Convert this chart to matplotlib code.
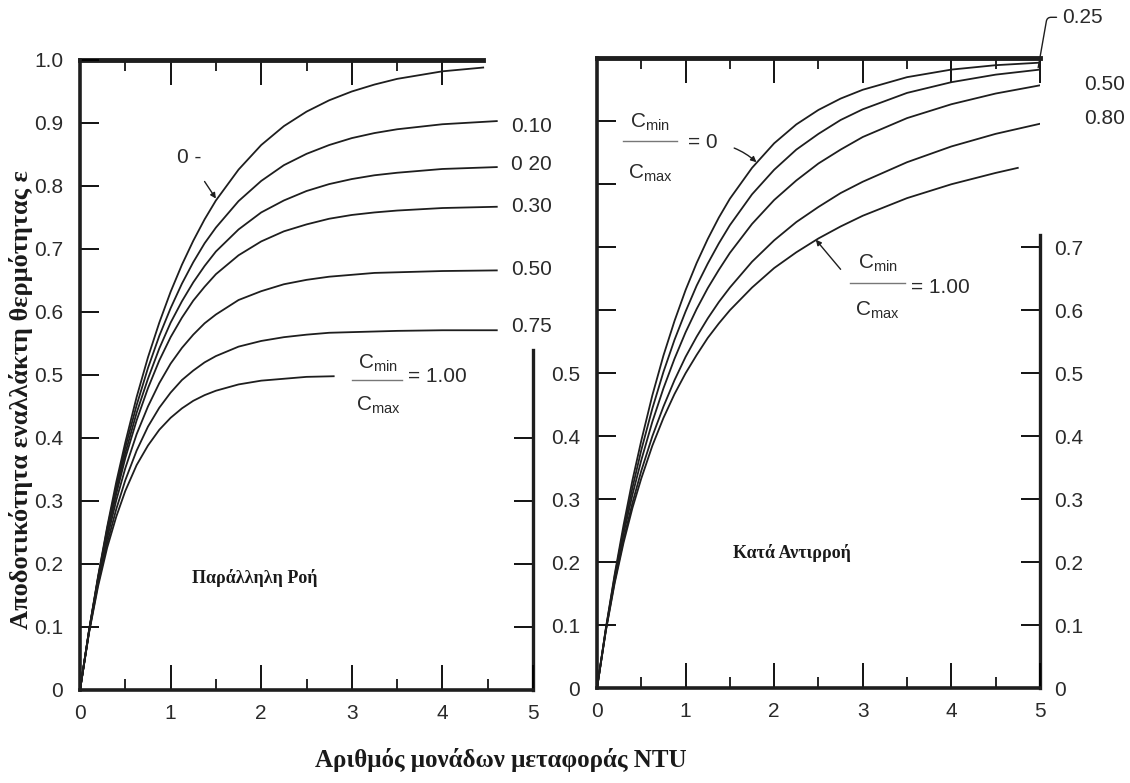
import numpy as np
import matplotlib.pyplot as plt

plt.rcParams['mathtext.fontset'] = 'custom'
plt.rcParams['mathtext.rm'] = 'Liberation Sans'

# ---------------- data ----------------
# parallel flow (left panel)
ntu_par = [0, 0.1, 0.2, 0.3, 0.4, 0.5, 0.625, 0.75, 0.875, 1.0, 1.125, 1.25, 1.375, 1.5,
           1.75, 2.0, 2.25, 2.5, 2.75, 3.0, 3.25, 3.5, 4.0, 4.6]
ntu_par_0 = [0, 0.1, 0.2, 0.3, 0.4, 0.5, 0.625, 0.75, 0.875, 1.0, 1.125, 1.25, 1.375, 1.5,
             1.75, 2.0, 2.25, 2.5, 2.75, 3.0, 3.25, 3.5, 4.0, 4.45]
ntu_par_100 = [0, 0.1, 0.2, 0.3, 0.4, 0.5, 0.625, 0.75, 0.875, 1.0, 1.125, 1.25, 1.375, 1.5,
               1.75, 2.0, 2.25, 2.5, 2.8]

par_000 = [0, .095, .181, .259, .330, .393, .465, .528, .583, .632, .675, .713, .747, .777,
           .826, .865, .895, .918, .936, .950, .961, .970, .982, .988]
par_010 = [0, .095, .179, .256, .323, .385, .452, .511, .562, .606, .645, .679, .709, .734,
           .776, .808, .833, .851, .865, .876, .884, .890, .898, .903]
par_020 = [0, .094, .178, .252, .317, .376, .440, .494, .542, .583, .617, .647, .673, .696,
           .731, .758, .777, .792, .803, .811, .817, .821, .827, .830]
par_030 = [0, .094, .176, .248, .311, .368, .428, .479, .523, .560, .591, .618, .640, .660,
           .690, .712, .728, .739, .748, .754, .758, .761, .765, .767]
par_050 = [0, .093, .173, .241, .301, .352, .406, .450, .487, .518, .543, .564, .582, .596,
           .619, .633, .644, .651, .656, .659, .662, .663, .665, .666]
par_075 = [0, .092, .169, .233, .287, .333, .380, .418, .448, .472, .492, .507, .520, .530,
           .545, .554, .560, .564, .567, .568, .569, .570, .571, .571]
par_100 = [0, .091, .165, .226, .275, .316, .357, .388, .413, .432, .447, .459, .468, .475,
           .485, .491, .494, .497, .498]

par_labels = ['0.10', '0 20', '0.30', '0.50', '0.75']

# counterflow (right panel)
ntu_cf = [0, 0.1, 0.2, 0.3, 0.4, 0.5, 0.625, 0.75, 0.875, 1.0, 1.125, 1.25, 1.375, 1.5,
          1.75, 2.0, 2.25, 2.5, 2.75, 3.0, 3.5, 4.0, 4.5, 5.0]
ntu_cf_100 = [0, 0.1, 0.2, 0.3, 0.4, 0.5, 0.625, 0.75, 0.875, 1.0, 1.125, 1.25, 1.375, 1.5,
              1.75, 2.0, 2.25, 2.5, 2.75, 3.0, 3.5, 4.0, 4.5, 4.75]

cf_000 = [0, .095, .181, .259, .330, .393, .465, .528, .583, .632, .675, .713, .747, .777,
          .826, .865, .895, .918, .936, .950, .970, .982, .989, .993]
cf_025 = [0, .094, .178, .252, .318, .378, .444, .502, .553, .598, .639, .674, .706, .735,
          .784, .823, .855, .880, .902, .919, .945, .962, .974, .982]
cf_050 = [0, .093, .174, .245, .307, .362, .423, .476, .523, .565, .602, .635, .664, .691,
          .737, .775, .806, .833, .855, .875, .905, .927, .944, .957]
cf_080 = [0, .092, .170, .236, .294, .345, .400, .447, .489, .526, .558, .587, .613, .636,
          .677, .711, .740, .764, .786, .804, .835, .860, .880, .896]
cf_100 = [0, .091, .167, .231, .286, .333, .385, .429, .467, .500, .529, .556, .579, .600,
          .636, .667, .692, .714, .733, .750, .778, .800, .818, .826]

eps_ticks = [0, 0.1, 0.2, 0.3, 0.4, 0.5, 0.6, 0.7, 0.8, 0.9, 1.0]
eps_ticklabels = ['0', '0.1', '0.2', '0.3', '0.4', '0.5', '0.6', '0.7', '0.8', '0.9', '1.0']
ntu_ticks = [0, 1, 2, 3, 4, 5]

# ---------------- style ----------------
INK = '#1e1e1e'
TICKFONT = dict(family='Liberation Sans', size=15, color='#2a2a2a')
GREEK = dict(family='Liberation Serif', weight='bold', color='#1a1a1a')
LW = 1.3

fig = plt.figure(figsize=(11.3, 7.83), dpi=100)
ax1 = fig.add_axes([0.0708, 0.1188, 0.4009, 0.8046])
ax2 = fig.add_axes([0.5283, 0.1210, 0.3920, 0.8046])

for ax in (ax1, ax2):
    ax.set_xlim(0, 5)
    ax.set_ylim(0, 1)
    ax.set_xticks(ntu_ticks)
    ax.set_xticks(np.arange(0.5, 5, 1.0), minor=True)
    ax.set_xticklabels([str(t) for t in ntu_ticks], **TICKFONT)
    ax.tick_params(axis='x', which='major', direction='in', length=18, width=1.3, pad=10)
    ax.tick_params(axis='x', which='minor', direction='in', length=8, width=1.2)
    ax.tick_params(axis='y', direction='in', length=14, width=1.3, pad=12, right=False)
    ax.set_yticks(eps_ticks)
    for side in ('left', 'bottom'):
        ax.spines[side].set_linewidth(2.6)
        ax.spines[side].set_color(INK)
    ax.spines['right'].set_visible(False)

# ---- left panel: parallel flow ----
ax1.set_yticklabels(eps_ticklabels, **TICKFONT)
ax1.spines['top'].set_visible(False)
ax1.tick_params(axis='x', which='both', top=False)
top1 = ax1.secondary_xaxis('top')
top1.set_xticks([1, 2, 3, 4])
top1.set_xticks([0.5, 1.5, 2.5, 3.5], minor=True)
top1.tick_params(which='major', direction='in', length=18, width=1.3, labeltop=False)
top1.tick_params(which='minor', direction='in', length=8, width=1.2)
top1.spines['top'].set_bounds(0, 4.45)
top1.spines['top'].set_linewidth(3.5)
top1.spines['top'].set_color(INK)
right1 = ax1.secondary_yaxis('right')
right1.set_yticks([0.1, 0.2, 0.3, 0.4])
right1.tick_params(direction='in', length=14, width=1.3, labelright=False)
right1.spines['right'].set_bounds(0, 0.54)
right1.spines['right'].set_linewidth(2.4)
right1.spines['right'].set_color(INK)

ax1.plot(ntu_par_0, par_000, color=INK, lw=LW)
for vals in (par_010, par_020, par_030, par_050, par_075):
    ax1.plot(ntu_par, vals, color=INK, lw=LW)
ax1.plot(ntu_par_100, par_100, color=INK, lw=LW)

par_label_y = [0.895, 0.834, 0.768, 0.668, 0.577]
for lab, yy in zip(par_labels, par_label_y):
    ax1.text(4.76, yy, lab, ha='left', va='center', clip_on=False, **TICKFONT)

ax1.annotate('0 -', xy=(1.5, 0.78), xytext=(1.2, 0.845), ha='center', va='center',
             arrowprops=dict(arrowstyle='-|>', color=INK, lw=1.0, mutation_scale=8,
                             shrinkA=10, shrinkB=0), **TICKFONT)
ax1.text(3.29, 0.519, r'$\mathrm{C_{min}}$', ha='center', va='center', **TICKFONT)
ax1.plot([3.0, 3.55], [0.492, 0.492], color='#777777', lw=1.0)
ax1.text(3.29, 0.452, r'$\mathrm{C_{max}}$', ha='center', va='center', **TICKFONT)
ax1.text(3.62, 0.497, '= 1.00', ha='left', va='center', **TICKFONT)
ax1.text(1.93, 0.178, 'Παράλληλη Ροή', ha='center', va='center', size=13, **GREEK)

# ---- right panel: counterflow ----
ax2.set_yticklabels(eps_ticklabels[:6] + [''] * 5, **TICKFONT)
ax2.tick_params(axis='x', which='both', top=True)
ax2.spines['top'].set_linewidth(3.5)
ax2.spines['top'].set_color(INK)
right2 = ax2.secondary_yaxis('right')
right2.set_yticks(eps_ticks[:8])
right2.set_yticklabels(eps_ticklabels[:8], **TICKFONT)
right2.tick_params(direction='in', length=14, width=1.3, pad=10)
right2.spines['right'].set_bounds(0, 0.72)
right2.spines['right'].set_linewidth(2.4)
right2.spines['right'].set_color(INK)

for vals in (cf_000, cf_025, cf_050, cf_080):
    ax2.plot(ntu_cf, vals, color=INK, lw=LW)
ax2.plot(ntu_cf_100, cf_100, color=INK, lw=LW)

ax2.annotate('0.25', xy=(4.98, 0.985), xytext=(5.25, 1.065), ha='left', va='center',
             annotation_clip=False,
             arrowprops=dict(arrowstyle='-', color=INK, lw=1.0, shrinkA=2, shrinkB=0,
                             connectionstyle='angle,angleA=0,angleB=80,rad=4'), **TICKFONT)
ax2.text(5.5, 0.958, '0.50', ha='left', va='center', clip_on=False, **TICKFONT)
ax2.text(5.5, 0.905, '0.80', ha='left', va='center', clip_on=False, **TICKFONT)

ax2.text(0.6, 0.898, r'$\mathrm{C_{min}}$', ha='center', va='center', **TICKFONT)
ax2.plot([0.29, 0.9], [0.868, 0.868], color='#777777', lw=1.0)
ax2.text(0.6, 0.818, r'$\mathrm{C_{max}}$', ha='center', va='center', **TICKFONT)
ax2.annotate('= 0', xy=(1.8, 0.835), xytext=(1.2, 0.866), ha='center', va='center',
             arrowprops=dict(arrowstyle='-|>', color=INK, lw=1.0, mutation_scale=8,
                             shrinkA=10, shrinkB=0, connectionstyle='arc3,rad=-0.2'),
             **TICKFONT)

ax2.text(3.17, 0.675, r'$\mathrm{C_{min}}$', ha='center', va='center', **TICKFONT)
ax2.plot([2.86, 3.48], [0.643, 0.643], color='#777777', lw=1.0)
ax2.text(3.17, 0.600, r'$\mathrm{C_{max}}$', ha='center', va='center', **TICKFONT)
ax2.text(3.55, 0.636, '= 1.00', ha='left', va='center', **TICKFONT)
ax2.annotate('', xy=(2.47, 0.712), xytext=(2.75, 0.665),
             arrowprops=dict(arrowstyle='-|>', color=INK, lw=1.0, mutation_scale=8,
                             shrinkA=0, shrinkB=0))
ax2.text(2.2, 0.214, 'Κατά Αντιρροή', ha='center', va='center', size=13, **GREEK)

# ---- shared axis titles ----
fig.text(0.443, 0.030, 'Αριθμός μονάδων μεταφοράς NTU', ha='center', va='center', size=18, **GREEK)
fig.text(0.019, 0.49, 'Αποδοτικότητα εναλλάκτη θερμότητας ε', ha='center', va='center',
         rotation=90, size=19, **GREEK)

fig.savefig('out.png', dpi=100, facecolor='white')
